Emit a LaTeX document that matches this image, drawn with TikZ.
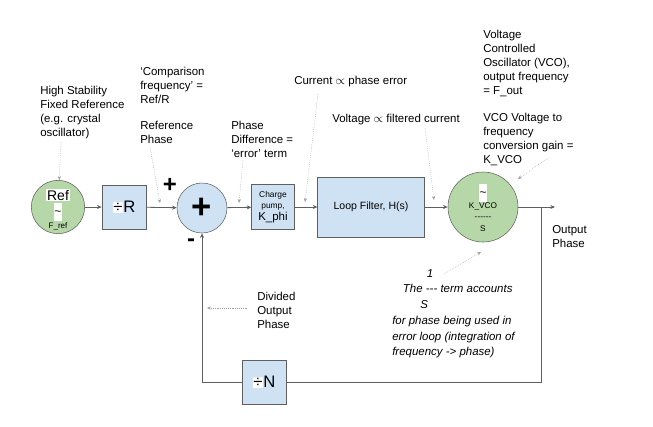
\documentclass[tikz,border=0pt]{standalone}
\usepackage{fontspec}
\setmainfont{Liberation Sans}
\usetikzlibrary{positioning,arrows.meta}
\definecolor{oscgreen}{HTML}{B6D7A8}
\definecolor{blockblue}{HTML}{CFE2F3}
\definecolor{edgegray}{HTML}{5F5F5F}
\definecolor{hintgray}{HTML}{A0A0A0}
\newcommand{\notefont}{\fontsize{8.6}{10.5}\selectfont}
\newcommand{\wbox}[1]{{\setlength{\fboxsep}{0.6pt}\colorbox{white}{#1}}}
\begin{document}
\begin{tikzpicture}[x=0.75pt, y=-0.75pt,
    every node/.style = {inner sep=0pt, font=\notefont},
    osc/.style = {shape=circle, draw=edgegray, fill=oscgreen},
    blk/.style = {shape=rectangle, draw=edgegray, fill=blockblue, align=center},
    sumnode/.style = {shape=circle, draw=edgegray, fill=blockblue, minimum size=37.5pt},
    note/.style = {align=left, anchor=north west},
    sig/.style = {draw=edgegray, line width=0.6pt, -{Stealth[length=3.5pt,width=3pt]}},
    hint/.style = {draw=hintgray, densely dotted, -{Stealth[length=3pt,width=2.5pt]}}]
  \useasboundingbox (0,0) rectangle (653,426);

  % forward path
  \node[osc, minimum size=40pt] (ref) at (58,207) {};
  \node (refname) at (58,195) {\wbox{\fontsize{10.5}{12}\selectfont Ref}};
  \node (reftilde) at (58,212) {\wbox{\fontsize{9}{12}\selectfont\strut\textasciitilde}};
  \node (reffreq) at (58,226) {\fontsize{6}{7}\selectfont F\_ref};
  \node[blk, minimum size=33pt] (divR) at (124,207) {\fontsize{12.5}{14}\selectfont\wbox{÷}R};
  \node[sumnode] (sum) at (202,208) {\fontsize{26}{26}\selectfont\bfseries +};
  \node[font=\fontsize{18}{18}\selectfont\bfseries] (plus) at (170,185) {+};
  \node[font=\fontsize{18}{18}\selectfont\bfseries] (minus) at (191,243) {-};
  \node[blk, minimum width=32pt, minimum height=34pt, font=\fontsize{6.3}{8}\selectfont] (pump) at (273,207)
    {Charge\\ pump,\\[1pt] \fontsize{8.6}{10}\selectfont K\_phi};
  \node[blk, minimum width=80pt, minimum height=45pt, font=\fontsize{7.9}{10}\selectfont] (filter) at (371,207)
    {Loop Filter, H(s)};
  \node[osc, minimum size=52.5pt] (vco) at (483,207) {};
  \node (vcotilde) at (483,193) {\wbox{\fontsize{9}{12}\selectfont\strut\textasciitilde}};
  \node[align=center, font=\fontsize{6.2}{8.5}\selectfont] (vcogain) at (483,217) {K\_VCO\\ {-}{-}{-}{-}{-}{-}\\ S};

  \coordinate (out) at (555,207);
  \coordinate (tap) at (541,207);
  \node[blk, minimum size=33pt] (divN) at (264,382) {\fontsize{12.5}{14}\selectfont\wbox{÷}N};

  \draw[sig] (ref) -- (divR);
  \draw[sig] (divR) -- (sum);
  \draw[sig] (sum) -- (pump);
  \draw[sig] (pump) -- (filter);
  \draw[sig] (filter) -- (vco);
  \draw[sig] (vco) -- (out);
  \draw[edgegray, line width=0.6pt] (tap) |- (divN);
  \draw[sig] (divN) -| (sum);

  % notes
  \node[note] (refnote) at (40,86) {High Stability\\ Fixed Reference\\ (e.g. crystal\\ oscillator)};
  \node[note] (compnote) at (140,67) {`Comparison\\ frequency' =\\ Ref/R};
  \node[note] (phasenote) at (140,121) {Reference\\ Phase};
  \node[note] (errnote) at (231,121) {Phase\\ Difference =\\ `error' term};
  \node[note] (curnote) at (294,76) {Current $\propto$ phase error};
  \node[note] (voltnote) at (332,114) {Voltage $\propto$ filtered current};
  \node[note] (vconote) at (483,30) {Voltage\\ Controlled\\ Oscillator (VCO),\\ output frequency\\ = F\_out};
  \node[note] (kvconote) at (483,113) {VCO Voltage to\\ frequency\\ conversion gain =\\ K\_VCO};
  \node[note] (outnote) at (552,225) {Output\\ Phase};
  \node[note] (divnote) at (257,292) {Divided\\ Output\\ Phase};
  \node[note, font=\fontsize{8.6}{11.8}\selectfont\itshape] (intnote) at (392,269)
    {\hspace*{26pt}1\\ \hspace*{8pt}The {-}{-}{-} term accounts\\ \hspace*{21pt}S\\
     for phase being used in\\ error loop (integration of\\ frequency {-}> phase)};

  \coordinate (refhint) at (61,142);
  \coordinate (phasehint) at (150,147);
  \coordinate (phaseend) at (160,203);
  \coordinate (errhint) at (243,160);
  \coordinate (errend) at (239,203);
  \coordinate (curhint) at (318,94);
  \coordinate (curend) at (305,202);
  \coordinate (volthint) at (425,128);
  \coordinate (voltend) at (434,200);
  \coordinate (kvcohint) at (548,158);
  \coordinate (kvcoend) at (518,179);
  \coordinate (inthint) at (444,274);
  \coordinate (intend) at (481,252);
  \coordinate (divhint) at (247,308);
  \coordinate (divend) at (207,308);

  \draw[hint] (refhint) -- (ref);
  \draw[hint] (phasehint) -- (phaseend);
  \draw[hint] (errhint) -- (errend);
  \draw[hint] (curhint) -- (curend);
  \draw[hint] (volthint) -- (voltend);
  \draw[hint] (kvcohint) -- (kvcoend);
  \draw[hint] (inthint) -- (intend);
  \draw[hint] (divhint) -- (divend);
\end{tikzpicture}
\end{document}
